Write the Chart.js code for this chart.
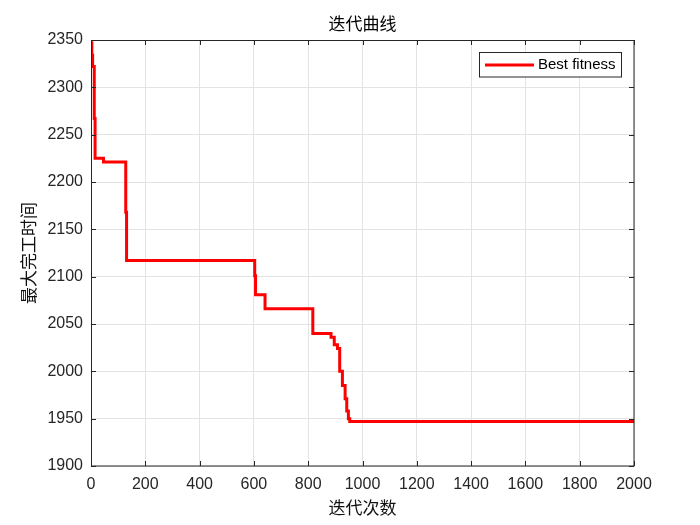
<!DOCTYPE html>
<html><head><meta charset="utf-8">
<script src="https://cdn.jsdelivr.net/npm/chart.js@4/dist/chart.umd.min.js"></script>
<style>html,body{margin:0;padding:0;background:#fff}#wrap{width:700px;height:525px}</style>
</head><body><div id="wrap"><canvas id="c" width="700" height="525"></canvas></div>
<script>
const chartTitle = '迭代曲线';
const xTitle = '迭代次数';
const yTitle = '最大完工时间';
const seriesName = 'Best fitness';
// iteration at which best fitness changes, and its value from there on
const iterations  = [0,    3,    6,    12,   15,   46,   128,  131,  603,  606,  641,  817,  884,  896,  908,  916,  926,  936,  942,  948,  953,  2000];
const bestFitness = [2347, 2334, 2322, 2267, 2225, 2221, 2168, 2117, 2101, 2081, 2066, 2040, 2036, 2028, 2024, 2000, 1985, 1971, 1958, 1950, 1947, 1947];
const xTicks = [0,200,400,600,800,1000,1200,1400,1600,1800,2000];
const yTicks = [1900,1950,2000,2050,2100,2150,2200,2250,2300,2350];

const points = iterations.map((x,i)=>({x:x, y:bestFitness[i]}));
const axisColor = '#262626';
const FONT = '"Liberation Sans", Arial, sans-serif';
const CJK = '"Noto Sans CJK SC", sans-serif';

const framePlugin = {
  id:'frame',
  afterDraw(chart){
    const ctx = chart.ctx, a = chart.chartArea;
    const xs = chart.scales.x, ys = chart.scales.y;
    ctx.save();
    ctx.strokeStyle = axisColor; ctx.lineWidth = 1;
    ctx.strokeRect(Math.round(a.left)+0.5, Math.round(a.top)+0.5, Math.round(a.right-a.left)-1+0.5, Math.round(a.bottom-a.top)-0.5);
    const tl = 5;
    ctx.beginPath();
    xTicks.forEach(v=>{
      const px = Math.round(xs.getPixelForValue(v))+0.5;
      ctx.moveTo(px, a.bottom); ctx.lineTo(px, a.bottom-tl);
      ctx.moveTo(px, a.top); ctx.lineTo(px, a.top+tl);
    });
    yTicks.forEach(v=>{
      const py = Math.round(ys.getPixelForValue(v))+0.5;
      ctx.moveTo(a.left, py); ctx.lineTo(a.left+tl, py);
      ctx.moveTo(a.right, py); ctx.lineTo(a.right-tl, py);
    });
    ctx.stroke();
    // title
    ctx.fillStyle = '#000';
    ctx.font = '17px ' + CJK;
    ctx.textAlign = 'center'; ctx.textBaseline = 'middle';
    ctx.fillText(chartTitle, (a.left+a.right)/2, 24);
    // legend
    const ds = chart.data.datasets[0];
    ctx.fillStyle = '#fff';
    ctx.fillRect(479.5, 52.5, 142, 24.5);
    ctx.strokeStyle = axisColor;
    ctx.strokeRect(479.5, 52.5, 142, 24.5);
    ctx.strokeStyle = ds.borderColor; ctx.lineWidth = 2.8;
    ctx.beginPath(); ctx.moveTo(485, 65); ctx.lineTo(534, 65); ctx.stroke();
    ctx.fillStyle = '#000';
    ctx.font = '15px ' + FONT;
    ctx.textAlign = 'left';
    ctx.fillText(ds.label, 538, 65);
    ctx.restore();
  }
};

new Chart(document.getElementById('c'), {
  type:'line',
  data:{ datasets:[{
    label: seriesName,
    data: points,
    borderColor:'#ff0000',
    borderWidth:3,
    pointRadius:0,
    stepped:true,
    fill:false
  }]},
  options:{
    responsive:false,
    animation:false,
    layout:{padding:{left:0, right:66, top:40, bottom:0}},
    plugins:{legend:{display:false}, title:{display:false}, tooltip:{enabled:false}},
    scales:{
      x:{
        type:'linear', min:0, max:2000,
        afterBuildTicks(s){ s.ticks = xTicks.map(v=>({value:v})); },
        afterFit(s){ s.height = 59; },
        grid:{color:'#e3e3e3', drawTicks:false},
        border:{display:false},
        ticks:{padding:9, color:axisColor, font:{family:FONT, size:16}, maxRotation:0, callback:v=>String(v)},
        title:{display:true, text:xTitle, color:'#111', font:{family:CJK, size:17}, padding:{top:0,bottom:7}}
      },
      y:{
        type:'linear', min:1900, max:2350,
        afterBuildTicks(s){ s.ticks = yTicks.map(v=>({value:v})); },
        afterFit(s){ s.width = 91; },
        grid:{color:'#e3e3e3', drawTicks:false},
        border:{display:false},
        ticks:{padding:8, color:axisColor, font:{family:FONT, size:16}, callback:v=>String(v)},
        title:{display:true, text:yTitle, color:'#111', font:{family:CJK, size:17}, padding:{top:18,bottom:0}}
      }
    }
  },
  plugins:[framePlugin]
});
</script></body></html>
